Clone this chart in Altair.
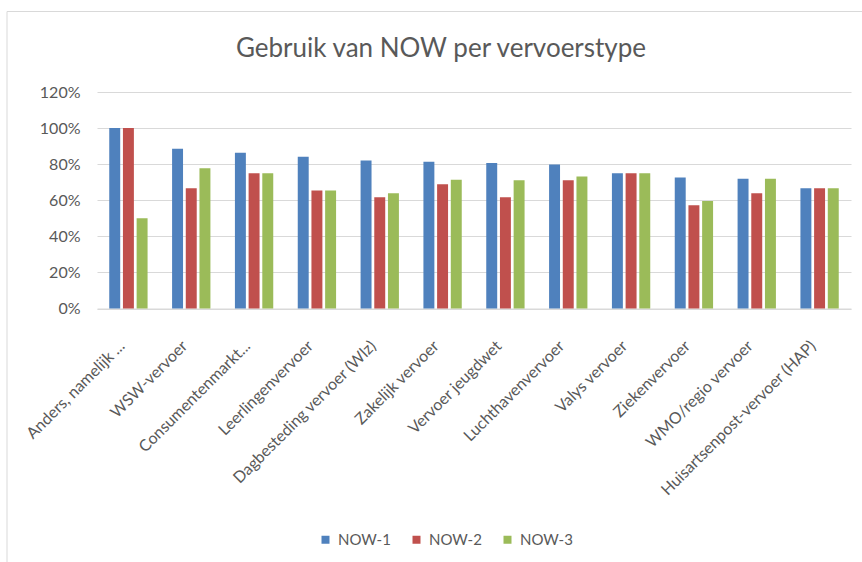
import altair as alt
import pandas as pd

categories = [
    "Anders, namelijk ...",
    "WSW-vervoer",
    "Consumentenmarkt...",
    "Leerlingenvervoer",
    "Dagbesteding vervoer (Wlz)",
    "Zakelijk vervoer",
    "Vervoer jeugdwet",
    "Luchthavenvervoer",
    "Valys vervoer",
    "Ziekenvervoer",
    "WMO/regio vervoer",
    "Huisartsenpost-vervoer (HAP)",
]
series = ["NOW-1", "NOW-2", "NOW-3"]
now1 = [1.00, 0.885, 0.863, 0.841, 0.820, 0.813, 0.806, 0.798, 0.75, 0.726, 0.719, 0.667]
now2 = [1.00, 0.667, 0.75, 0.654, 0.617, 0.689, 0.617, 0.711, 0.75, 0.572, 0.639, 0.667]
now3 = [0.50, 0.778, 0.75, 0.654, 0.639, 0.713, 0.711, 0.731, 0.75, 0.596, 0.719, 0.667]
colors = ["#4f81bd", "#c0504d", "#9bbb59"]
y_ticks = [0, 0.2, 0.4, 0.6, 0.8, 1.0, 1.2]

rows = []
for s, vals in zip(series, [now1, now2, now3]):
    for c, v in zip(categories, vals):
        rows.append({"cat": c, "series": s, "value": v})
df = pd.DataFrame(rows)

FONT = "Lato"
GRAY = "#595959"

bars = alt.Chart(df).mark_bar().encode(
    x=alt.X(
        "cat:N",
        sort=categories,
        title=None,
        scale=alt.Scale(paddingInner=0.39, paddingOuter=0.195),
        axis=alt.Axis(
            labelAngle=-45,
            labelAlign="right",
            labelBaseline="top",
            labelPadding=29,
            labelOffset=-12,
            labelFontSize=16,
            labelFont=FONT,
            labelColor=GRAY,
            labelLimit=400,
            ticks=False,
            domain=True,
            domainColor="#d9d9d9",
            domainWidth=1,
            grid=False,
        ),
    ),
    xOffset=alt.XOffset("series:N", sort=series, scale=alt.Scale(paddingInner=0.2, paddingOuter=0)),
    y=alt.Y(
        "value:Q",
        title=None,
        scale=alt.Scale(domain=[0, 1.2], nice=False),
        axis=alt.Axis(
            values=y_ticks,
            format=".0%",
            labelFontSize=16,
            labelFont=FONT,
            labelColor=GRAY,
            labelPadding=17,
            ticks=False,
            domain=False,
            grid=True,
            gridColor="#d9d9d9",
            gridWidth=1,
        ),
    ),
    color=alt.Color(
        "series:N",
        sort=series,
        scale=alt.Scale(domain=series, range=colors),
        legend=alt.Legend(
            title=None,
            orient="none",
            direction="horizontal",
            legendX=221,
            legendY=440,
            symbolType="square",
            symbolSize=64,
            symbolStrokeWidth=0,
            labelFontSize=15,
            labelFont=FONT,
            labelColor=GRAY,
            labelOffset=5,
            columnPadding=18,
            padding=0,
        ),
    ),
)

frame = alt.Chart(pd.DataFrame({"a": [0]})).mark_rect(
    fill=None, stroke="#d9d9d9", strokeWidth=1
).encode(
    x=alt.value(-90),
    x2=alt.value(800),
    y=alt.value(-80.5),
    y2=alt.value(520),
)

chart = alt.layer(frame, bars).properties(
    width=754,
    height=216.5,
    padding={"left": 97, "top": 92, "right": 11, "bottom": 253.5},
    autosize=alt.AutoSizeParams(type="none"),
    title=alt.Title(
        "Gebruik van NOW per vervoerstype",
        fontSize=26,
        font=FONT,
        fontWeight="normal",
        color=GRAY,
        anchor="middle",
        dx=-33,
        offset=-51,
    ),
).configure_view(stroke=None)

chart.save("out.html", embed_options={"renderer": "svg", "actions": False})
